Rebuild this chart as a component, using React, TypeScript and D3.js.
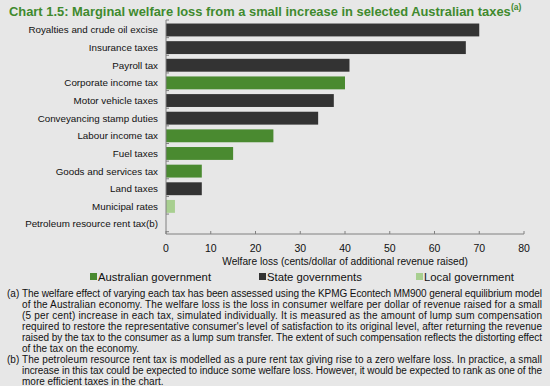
import React from 'react';
import * as d3 from 'd3';

const taxes = [
  'Royalties and crude oil excise',
  'Insurance taxes',
  'Payroll tax',
  'Corporate income tax',
  'Motor vehicle taxes',
  'Conveyancing stamp duties',
  'Labour income tax',
  'Fuel taxes',
  'Goods and services tax',
  'Land taxes',
  'Municipal rates',
  'Petroleum resource rent tax(b)',
];
const welfareLoss = [70, 67, 41, 40, 37.5, 34, 24, 15, 8, 8, 2, 0];
const level = ['State', 'State', 'State', 'Aus', 'State', 'State', 'Aus', 'Aus', 'Aus', 'State', 'Local', 'Aus'];
const levels = ['Aus', 'State', 'Local'];
const levelNames = ['Australian government', 'State governments', 'Local government'];
const xTicks = [0, 10, 20, 30, 40, 50, 60, 70, 80];

const noteA = [
  'The welfare effect of varying each tax has been assessed using the KPMG Econtech MM900 general equilibrium model',
  'of the Australian economy. The welfare loss is the loss in consumer welfare per dollar of revenue raised for a small',
  '(5 per cent) increase in each tax, simulated individually. It is measured as the amount of lump sum compensation',
  "required to restore the representative consumer's level of satisfaction to its original level, after returning the revenue",
  'raised by the tax to the consumer as a lump sum transfer. The extent of such compensation reflects the distorting effect',
  'of the tax on the economy.',
];
const noteB = [
  'The petroleum resource rent tax is modelled as a pure rent tax giving rise to a zero welfare loss. In practice, a small',
  'increase in this tax could be expected to induce some welfare loss. However, it would be expected to rank as one of the',
  'more efficient taxes in the chart.',
];

const W = 550;
const H = 386;
const bg = '#e7e7e7';
const font = 'Liberation Sans, Arial, sans-serif';
const margin = { top: 20, left: 166, right: 26, bottom: 152 };

const color = d3.scaleOrdinal<string, string>().domain(levels).range(['#4a8a30', '#333333', '#a8cf90']);

const App: React.FC = () => {
  const x = d3.scaleLinear().domain([0, 80]).range([margin.left, W - margin.right]);
  const y = d3.scaleBand().domain(taxes).range([margin.top, H - margin.bottom]).paddingInner(0.27).paddingOuter(0.2);
  const yBase = H - margin.bottom;
  const step = y.step();
  const bands = d3.range(taxes.length + 1).map((i) => margin.top + i * step);

  const noteLines = [
    ...noteA.map((t, i) => ({ t, tag: i === 0 ? '(a)' : '', last: i === noteA.length - 1 })),
    ...noteB.map((t, i) => ({ t, tag: i === 0 ? '(b)' : '', last: i === noteB.length - 1 })),
  ];

  return (
    <div style={{ position: 'fixed', left: 0, top: 0 }}>
      <svg width={W} height={H} style={{ display: 'block', background: bg }} fontFamily={font}>
        <text x={9} y={15.5} fontSize={12.9} fontWeight="bold" fill="#3f8a2e">
          Chart 1.5: Marginal welfare loss from a small increase in selected Australian taxes
        </text>
        <text x={511} y={10} fontSize={8.5} fontWeight="bold" fill="#3f8a2e">
          (a)
        </text>

        {taxes.map((t, i) => (
          <rect
            key={t}
            x={x(0)}
            y={y(t)}
            width={x(welfareLoss[i]) - x(0)}
            height={y.bandwidth()}
            fill={color(level[i])}
          />
        ))}

        <line x1={x(0)} x2={x(0)} y1={margin.top} y2={yBase} stroke="#808080" strokeWidth={1} />
        {bands.map((b, i) => (
          <line key={i} x1={x(0)} x2={x(0) + 3} y1={b} y2={b} stroke="#808080" strokeWidth={1} />
        ))}
        <line x1={x(0)} x2={x(80)} y1={yBase} y2={yBase} stroke="#808080" strokeWidth={1} />
        {xTicks.map((v) => (
          <g key={v}>
            <line x1={x(v)} x2={x(v)} y1={yBase} y2={yBase - 3} stroke="#808080" strokeWidth={1} />
            <text x={x(v)} y={yBase + 18} textAnchor="middle" fontSize={10.5} fill="#111">
              {v}
            </text>
          </g>
        ))}
        <text x={(x(0) + x(80)) / 2} y={265} textAnchor="middle" fontSize={10.2} fill="#111">
          Welfare loss (cents/dollar of additional revenue raised)
        </text>

        {taxes.map((t) => (
          <text
            key={t}
            x={x(0) - 8}
            y={(y(t) as number) + y.bandwidth() / 2}
            dy="0.35em"
            textAnchor="end"
            fontSize={9.8}
            fill="#111"
          >
            {t}
          </text>
        ))}

        {levels.map((l, i) => {
          const lx = [90, 259, 416][i];
          return (
            <g key={l}>
              <rect x={lx} y={273} width={7} height={7} fill={color(l)} />
              <text x={lx + 8} y={281} fontSize={11.3} fill="#111">
                {levelNames[i]}
              </text>
            </g>
          );
        })}

        {noteLines.map((n, i) => (
          <g key={i}>
            {n.tag && (
              <text x={7} y={296.5 + i * 11.1} fontSize={10} fill="#111">
                {n.tag}
              </text>
            )}
            <text
              x={22}
              y={296.5 + i * 11.1}
              fontSize={10}
              fill="#111"
              textLength={n.last ? undefined : 520}
              lengthAdjust="spacing"
            >
              {n.t}
            </text>
          </g>
        ))}
      </svg>
    </div>
  );
};

export default App;
